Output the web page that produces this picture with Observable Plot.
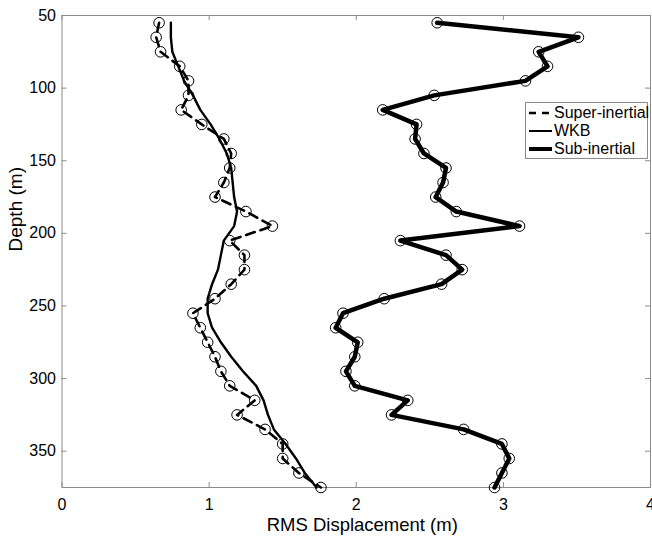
<!DOCTYPE html>
<html><head><meta charset="utf-8">
<script src="https://cdn.jsdelivr.net/npm/d3@7"></script>
<script src="https://cdn.jsdelivr.net/npm/@observablehq/plot@0.6"></script>
<style>
body{margin:0;background:#fff;font-family:"Liberation Sans",Arial,Helvetica,sans-serif;}
#wrap{position:relative;width:652px;height:537px;overflow:hidden;}
#legend{position:absolute;left:525px;top:102px;width:123px;height:57px;border:1px solid #8c8c8c;background:#fff;box-sizing:border-box;padding-top:1px;}
#legend .row{display:flex;align-items:center;height:18px;font-size:16px;color:#000;white-space:nowrap;}
#legend svg{width:26px;height:18px;margin-left:2px;flex:none;}
</style>
</head><body>
<div id="wrap"><div id="chart"></div><div id="legend"></div></div>
<script>
const depth = [55,65,75,85,95,105,115,125,135,145,155,165,175,185,195,205,215,225,235,245,255,265,275,285,295,305,315,325,335,345,355,365,375];
const superInertial = [0.66,0.64,0.67,0.80,0.86,0.86,0.81,0.95,1.10,1.15,1.14,1.10,1.04,1.25,1.43,1.14,1.24,1.24,1.15,1.04,0.89,0.94,0.99,1.04,1.08,1.14,1.31,1.19,1.38,1.50,1.50,1.61,1.76];
const wkb = [0.74,0.74,0.75,0.79,0.83,0.89,0.94,1.01,1.07,1.12,1.15,1.16,1.17,1.19,1.17,1.10,1.08,1.06,1.02,0.99,0.99,1.02,1.08,1.15,1.23,1.32,1.37,1.40,1.44,1.52,1.59,1.65,1.73];
const subInertial = [2.55,3.51,3.24,3.30,3.15,2.53,2.18,2.41,2.40,2.46,2.61,2.59,2.54,2.68,3.11,2.30,2.61,2.72,2.58,2.19,1.91,1.86,2.01,1.99,1.93,1.99,2.35,2.24,2.73,2.99,3.04,2.99,2.94];
const xTicks = [0,1,2,3,4];
const yTicks = [50,100,150,200,250,300,350];
const xLabel = "RMS Displacement (m)";
const yLabel = "Depth (m)";
const seriesNames = ["Super-inertial","WKB","Sub-inertial"];

const sup = depth.map((d,i)=>({depth:d, v:superInertial[i]}));
const wk = depth.map((d,i)=>({depth:d, v:wkb[i]}));
const sub = depth.map((d,i)=>({depth:d, v:subInertial[i]}));

const W = 652, H = 537, mL = 61.5, mR = 2, mT = 15, mB = 50;
const pw = W - mL - mR, ph = H - mT - mB;
const gray = "#8c8c8c";

const chart = Plot.plot({
  width: W, height: H,
  marginLeft: mL, marginRight: mR, marginTop: mT, marginBottom: mB,
  style: {fontFamily: '"Liberation Sans", Arial, Helvetica, sans-serif', background: "#fff", overflow: "visible"},
  x: {domain: [0,4]},
  y: {domain: [50,375], reverse: true},
  marks: [
    Plot.frame({stroke: gray, strokeWidth: 1}),
    Plot.tickX(xTicks, {x: d=>d, stroke: gray, insetTop: ph - 5}),
    Plot.tickX(xTicks, {x: d=>d, stroke: gray, insetBottom: ph - 5}),
    Plot.tickY(yTicks, {y: d=>d, stroke: gray, insetRight: pw - 5}),
    Plot.tickY(yTicks, {y: d=>d, stroke: gray, insetLeft: pw - 5}),
    Plot.axisX(xTicks, {tickSize: 0, tickPadding: 11, fontSize: 16, fill: "#000", label: null, tickFormat: d=>String(d)}),
    Plot.axisY(yTicks, {tickSize: 0, tickPadding: 6, fontSize: 16, fill: "#000", label: null, tickFormat: d=>String(d)}),
    Plot.text([xLabel], {frameAnchor: "bottom", dy: 38, dx: 6, lineAnchor: "middle", fontSize: 18.5, fill: "#000", text: d=>d}),
    Plot.text([yLabel], {frameAnchor: "left", dx: -46, rotate: -90, fontSize: 19, fill: "#000", text: d=>d}),
    Plot.line(wk, {x: "v", y: "depth", stroke: "#000", strokeWidth: 2.4, curve: "linear"}),
    Plot.line(sup, {x: "v", y: "depth", stroke: "#000", strokeWidth: 2.6, strokeDasharray: "9,6", curve: "linear"}),
    Plot.dot(sup, {x: "v", y: "depth", r: 5.3, stroke: "#000", strokeWidth: 1, fill: "none"}),
    Plot.line(sub, {x: "v", y: "depth", stroke: "#000", strokeWidth: 4.5, curve: "linear"}),
    Plot.dot(sub, {x: "v", y: "depth", r: 5.3, stroke: "#000", strokeWidth: 1, fill: "none"})
  ]
});
document.getElementById("chart").appendChild(chart);

const styles = [{w:2.6, dash:"7,6"},{w:2, dash:null},{w:4, dash:null}];
const leg = document.getElementById("legend");
seriesNames.forEach((name,i)=>{
  const row = document.createElement("div");
  row.className = "row";
  const s = styles[i];
  row.innerHTML = `<svg viewBox="0 0 26 18"><line x1="1" x2="24" y1="9" y2="9" stroke="#000" stroke-width="${s.w}" ${s.dash?`stroke-dasharray="${s.dash}"`:""}/></svg><span>${name}</span>`;
  leg.appendChild(row);
});
</script>
</body></html>
